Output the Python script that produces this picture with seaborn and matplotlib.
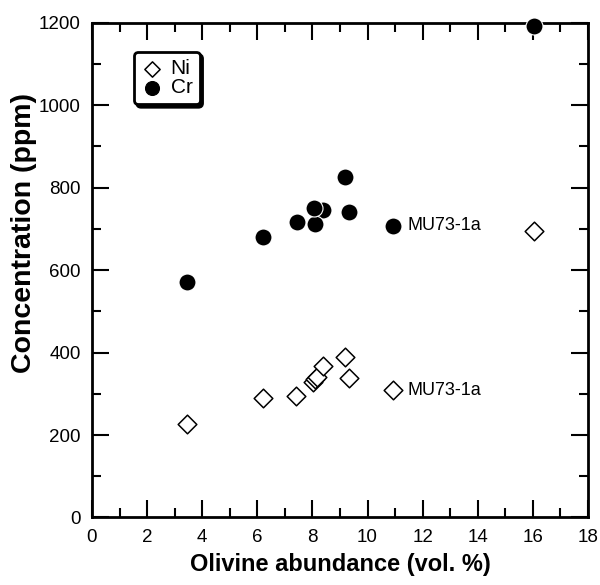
import matplotlib
matplotlib.use("Agg")
import matplotlib.pyplot as plt
from matplotlib.ticker import MultipleLocator
import seaborn as sns
import pandas as pd

# ---- data ----
ni_olivine = [3.46, 6.19, 7.42, 8.01, 8.09, 8.15, 8.40, 9.17, 9.31, 10.94, 16.04]
ni_ppm = [227, 289, 295, 329, 336, 341, 367, 389, 338, 309, 695]
cr_olivine = [3.46, 6.19, 7.43, 8.40, 8.09, 8.07, 9.17, 9.31, 10.94, 16.03]
cr_ppm = [570, 681, 717, 746, 711, 751, 826, 742, 707, 1192]
label_sample = "MU73-1a"
label_x = 10.94
label_ni = 309
label_cr = 707
x_ticks = list(range(0, 19, 2))
y_ticks = list(range(0, 1201, 200))

sns.set_style("ticks")
plt.rcParams["font.family"] = ["Liberation Sans", "DejaVu Sans"]
plt.rcParams["text.color"] = "black"
plt.rcParams["axes.labelcolor"] = "black"
plt.rcParams["xtick.color"] = "black"
plt.rcParams["ytick.color"] = "black"

ni_df = pd.DataFrame({"olivine": ni_olivine, "ppm": ni_ppm})
cr_df = pd.DataFrame({"olivine": cr_olivine, "ppm": cr_ppm})

fig = plt.figure(figsize=(6.0, 5.85), dpi=100)
ax = fig.add_axes([0.1533, 0.1154, 0.8267, 0.8458])

sns.scatterplot(data=ni_df, x="olivine", y="ppm", ax=ax, marker="D", s=90,
                facecolor="white", edgecolor="black", linewidth=1.1,
                label="Ni", zorder=3, clip_on=False)
sns.scatterplot(data=cr_df, x="olivine", y="ppm", ax=ax, marker="o", s=150,
                color="black", edgecolor="white", linewidth=0.8,
                label="Cr", zorder=4, clip_on=False)

for yv in (label_cr, label_ni):
    ax.annotate(label_sample, xy=(label_x, yv), xytext=(10, 0),
                textcoords="offset points", va="center", ha="left",
                fontsize=13, color="black")

ax.set_xlim(0, 18)
ax.set_ylim(0, 1200)
ax.set_xticks(x_ticks)
ax.set_yticks(y_ticks)
ax.xaxis.set_minor_locator(MultipleLocator(1))
ax.yaxis.set_minor_locator(MultipleLocator(100))
ax.tick_params(which="both", direction="in", top=True, right=True,
               width=1.5, color="black", labelsize=13.5, labelcolor="black")
ax.tick_params(which="major", length=12)
ax.tick_params(which="minor", length=6.5)
ax.tick_params(axis="x", pad=8)
ax.tick_params(axis="y", pad=8)
for sp in ax.spines.values():
    sp.set_visible(True)
    sp.set_linewidth(2.0)
    sp.set_color("black")

ax.set_xlabel("Olivine abundance (vol. %)", fontsize=17, fontweight="bold",
              color="black")
ax.set_ylabel("Concentration (ppm)", fontsize=20.5, fontweight="bold",
              color="black")
ax.xaxis.set_label_coords(0.5, -0.072)
ax.yaxis.set_label_coords(-0.11, 0.575)

leg = ax.legend(loc="upper left", bbox_to_anchor=(0.085, 0.941),
                borderaxespad=0, fontsize=15, frameon=True, fancybox=True,
                shadow={"color": "black", "alpha": 1.0},
                markerscale=0.82, handlelength=1.0, handletextpad=0.4,
                labelspacing=0.0, borderpad=0.35, framealpha=1,
                labelcolor="black")
frame = leg.get_frame()
frame.set_edgecolor("black")
frame.set_linewidth(2.0)
frame.set_facecolor("white")
for h in leg.legend_handles:
    h.set_edgecolor("black")

fig.savefig("out.png", dpi=100)
